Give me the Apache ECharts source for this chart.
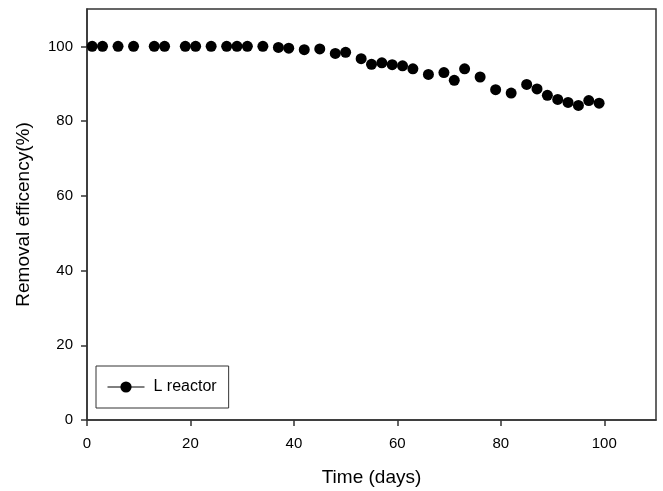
<!DOCTYPE html>
<html>
<head>
<meta charset="utf-8">
<script src="https://cdn.jsdelivr.net/npm/echarts@6/dist/echarts.min.js"></script>
<style>
html,body{margin:0;padding:0;background:#fff;}
#chart{width:663px;height:491px;}
</style>
</head>
<body>
<div id="chart"></div>
<script>
var days = [1,3,6,9,13,15,19,21,24,27,29,31,34,37,39,42,45,48,50,53,55,57,59,61,63,66,69,71,73,76,79,82,85,87,89,91,93,95,97,99];
var removal = [100,100,100,100,100,100,100,100,100,100,100,100,100,99.7,99.5,99.1,99.3,98.1,98.4,96.7,95.2,95.6,95.1,94.8,94.0,92.5,93.0,90.9,94.0,91.8,88.4,87.5,89.8,88.6,86.9,85.8,85.0,84.2,85.5,84.8];
var xTicks = [0,20,40,60,80,100];
var yTicks = [0,20,40,60,80,100];
var seriesName = 'L reactor';
var xTitle = 'Time (days)';
var yTitle = 'Removal efficency(%)';

var pts = days.map(function(d,i){return [d, removal[i]];});
var font = 'Liberation Sans, Arial, sans-serif';
var axisColor = '#333';
var chart = echarts.init(document.getElementById('chart'), null, {renderer:'canvas'});
chart.setOption({
  animation:false,
  backgroundColor:'#fff',
  grid:{left:87,right:7,top:9,bottom:71,show:true,borderColor:axisColor,borderWidth:1.5,outerBoundsMode:'none',containLabel:false},
  legend:{
    left:96, top:366,
    orient:'vertical',
    backgroundColor:'#fff',
    borderColor:'#333', borderWidth:1, borderRadius:0,
    padding:[13,12,13,11],
    itemWidth:37, itemHeight:14,
    itemGap:0,
    textStyle:{fontFamily:font,fontSize:16,color:'#000',padding:[0,0,0,4]},
    lineStyle:{color:'#000',width:1,opacity:1},
    itemStyle:{color:'#000'},
    data:[seriesName]
  },
  xAxis:{
    type:'value', min:0, max:110,
    name:xTitle, nameLocation:'middle', nameGap:48,
    nameTextStyle:{fontFamily:font,fontSize:19,color:'#000'},
    axisLine:{show:true,onZero:false,lineStyle:{color:axisColor,width:1.5}},
    axisTick:{show:true,inside:false,length:6,customValues:xTicks,lineStyle:{color:axisColor,width:1.5}},
    axisLabel:{customValues:xTicks,margin:16,fontFamily:font,fontSize:15,color:'#000'},
    splitLine:{show:false}
  },
  yAxis:{
    type:'value', min:0, max:110,
    name:yTitle, nameLocation:'middle', nameGap:54,
    nameTextStyle:{fontFamily:font,fontSize:19,color:'#000'},
    axisLine:{show:true,onZero:false,lineStyle:{color:axisColor,width:1.5}},
    axisTick:{show:true,inside:false,length:6,customValues:yTicks,lineStyle:{color:axisColor,width:1.5}},
    axisLabel:{customValues:yTicks,margin:14,fontFamily:font,fontSize:15,color:'#000'},
    splitLine:{show:false}
  },
  series:[{
    name:seriesName,
    type:'line',
    data:pts,
    symbol:'circle',
    symbolSize:11,
    itemStyle:{color:'#000'},
    lineStyle:{width:0,opacity:0},
    z:3
  }]
});
</script>
</body>
</html>
